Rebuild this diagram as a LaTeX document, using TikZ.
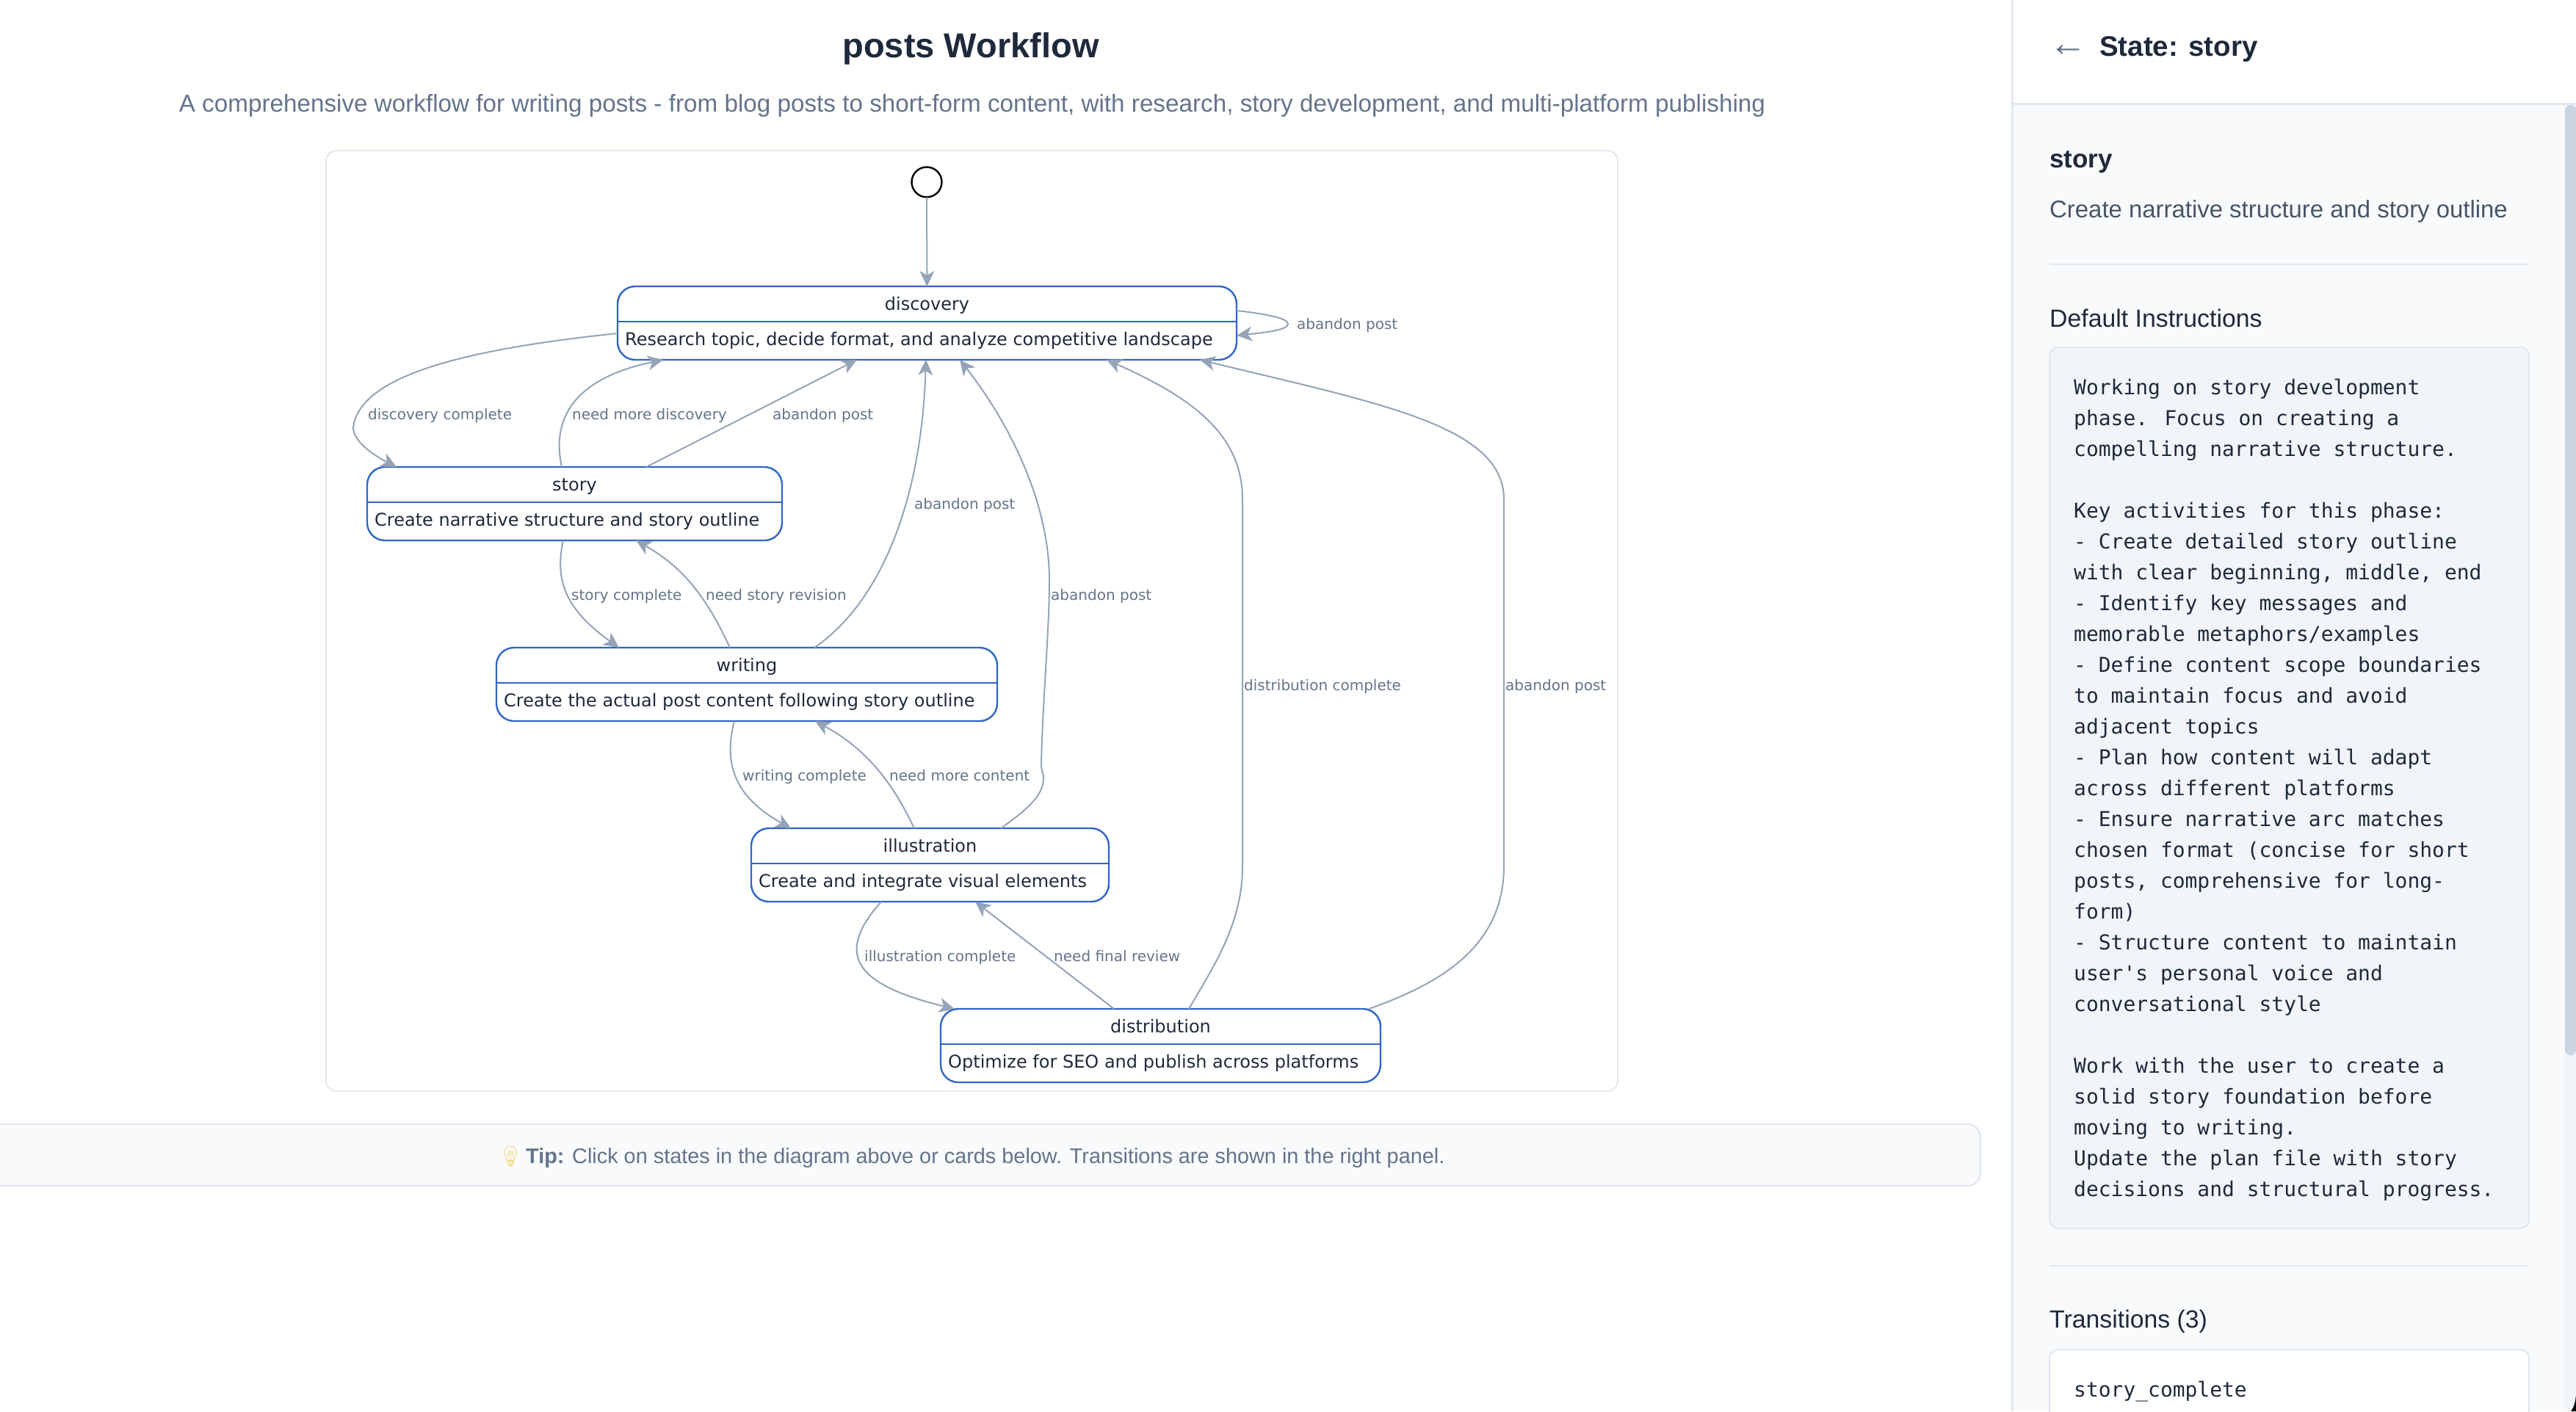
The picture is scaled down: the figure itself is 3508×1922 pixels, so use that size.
\documentclass[tikz,border=0pt]{standalone}
\usepackage{fontspec}
\usetikzlibrary{arrows.meta}
\setmainfont{Liberation Sans}
\newfontfamily\dejavu{DejaVu Sans}
\newfontfamily\dejamono{DejaVu Sans Mono}
\newfontfamily\emojifont{Noto Emoji}
\definecolor{slatebord}{HTML}{E2E8F0}
\definecolor{panelbg}{HTML}{F8FAFC}
\definecolor{codebg}{HTML}{F1F5F9}
\definecolor{ink}{HTML}{1E293B}
\definecolor{muted}{HTML}{64748B}
\definecolor{edgecol}{HTML}{94A3B8}
\definecolor{boxblue}{HTML}{2F66C6}
\definecolor{thumb}{HTML}{CBD5E1}
\definecolor{bulb}{HTML}{F3D77A}
\definecolor{desccol}{HTML}{475569}
\newcommand{\fs}[1]{\fontsize{#1}{#1}\selectfont}
\tikzset{
  statebox/.style={draw=boxblue,line width=2.4pt,fill=white,rounded corners=24pt,inner sep=0pt,outer sep=0pt,minimum height=100pt,text width=0pt},
  stateline/.style={draw=boxblue,line width=2.4pt},
  statetitle/.style={anchor=base,inner sep=0pt,text=ink,font=\dejavu\fs{24}},
  statedesc/.style={anchor=base west,inner sep=0pt,text=ink,font=\dejavu\fs{24}},
  edgeline/.style={draw=edgecol,line width=2pt,-{Stealth[length=21pt,width=20pt,inset=6pt]}},
  edgelabel/.style={anchor=base west,inner sep=0pt,text=muted,font=\dejavu\fs{20}},
  pagetext/.style={anchor=base west,inner sep=0pt},
  codeline/.style={anchor=base west,inner sep=0pt,text=ink,font=\dejamono\fs{27.95}},
  hairline/.style={draw=slatebord,line width=2.4pt},
  startcircle/.style={circle,draw=black,line width=2.4pt,fill=white,minimum size=41pt,inner sep=0pt,outer sep=0pt}
}
\newcommand{\mkstate}[6]{%
  \node[statebox,minimum width=#4pt,anchor=north west] (#1) at (#2,#3) {};
  \draw[stateline] ([yshift=-48pt]#1.north west) -- ([yshift=-48pt]#1.north east);
  \node[statetitle] (#1-title) at ([yshift=-32pt]#1.north) {#5};
  \node[statedesc] (#1-desc) at ([shift={(10pt,-80pt)}]#1.north west) {#6};
}
\begin{document}
\begin{tikzpicture}[x=1pt,y=-1pt]
\useasboundingbox (0,0) rectangle (3508,1922);
\clip (0,0) rectangle (3508,1922);
\fill[white] (0,0) rectangle (3508,1922);

% page header
\node[anchor=base,inner sep=0pt,text=ink,font=\bfseries\fs{47}] (pagetitle) at (1322,78) {posts Workflow};
\node[anchor=base,inner sep=0pt,text=muted,font=\fs{33.25}] (pagesub) at (1324,152) {A comprehensive workflow for writing posts - from blog posts to short-form content, with research, story development, and multi-platform publishing};

% diagram frame
\draw[draw=slatebord,line width=2pt,fill=white,rounded corners=14pt] (444,205) rectangle (2203,1486);

% tip bar
\draw[draw=slatebord,line width=2.4pt,fill=panelbg,rounded corners=18pt] (-40,1531) rectangle (2697,1615);
\node[pagetext,text=bulb,font=\emojifont\fs{27}] (tipicon) at (678,1584) {💡};
\node[pagetext,text=muted,font=\fs{28.85}] (tiptext) at (716,1584) {\textbf{Tip:} Click on states in the diagram above or cards below. Transitions are shown in the right panel.};

% states
\node[startcircle] (start) at (1262,248) {};
\mkstate{discovery}{841}{390}{843}{discovery}{Research topic, decide format, and analyze competitive landscape}
\mkstate{story}{500}{636}{565}{story}{Create narrative structure and story outline}
\mkstate{writing}{676}{882}{682}{writing}{Create the actual post content following story outline}
\mkstate{illustration}{1023}{1128}{487}{illustration}{Create and integrate visual elements}
\mkstate{distribution}{1281}{1374}{599}{distribution}{Optimize for SEO and publish across platforms}

% connectors
\draw[edgeline] (start.south) -- (discovery.north);
\draw[edgeline] ([yshift=-33pt]discovery.north east) .. controls (1720,427) and (1754,433) .. (1754,441) .. controls (1754,450) and (1720,453) .. ([yshift=-67pt]discovery.north east);
\draw[edgeline] ([yshift=36pt]discovery.south west) .. controls (640,475) and (490,510) .. (481,582) .. controls (481,600) and (505,618) .. ([xshift=40pt]story.north west);
\draw[edgeline] ([xshift=265pt]story.north west) .. controls (755,590) and (760,520) .. ([xshift=62pt]discovery.south west);
\draw[edgeline] ([xshift=380pt]story.north west) -- ([xshift=326pt]discovery.south west);
\draw[edgeline] ([xshift=267pt]story.south west) .. controls (755,790) and (770,830) .. ([xshift=167pt]writing.north west);
\draw[edgeline] ([xshift=318pt]writing.north west) .. controls (965,820) and (935,775) .. ([xshift=366pt]story.south west);
\draw[edgeline] ([xshift=433pt]writing.north west) .. controls (1200,820) and (1255,680) .. ([xshift=420pt]discovery.south west);
\draw[edgeline] ([xshift=324pt]writing.south west) .. controls (985,1040) and (1000,1085) .. ([xshift=54pt]illustration.north west);
\draw[edgeline] ([xshift=222pt]illustration.north west) .. controls (1215,1065) and (1180,1020) .. ([xshift=434pt]writing.south west);
\draw[edgeline] ([xshift=340pt]illustration.north west) .. controls (1395,1105) and (1421,1085) .. (1421,1060) .. controls (1421,1052) and (1418,1050) .. (1418,1040) .. controls (1420,950) and (1429,860) .. (1429,790) .. controls (1429,680) and (1370,570) .. ([xshift=466pt]discovery.south west);
\draw[edgeline] ([xshift=177pt]illustration.south west) .. controls (1138,1298) and (1160,1340) .. ([xshift=19pt]distribution.north west);
\draw[edgeline] ([xshift=236pt]distribution.north west) -- ([xshift=305pt]illustration.south west);
\draw[edgeline] ([xshift=338pt]distribution.north west) .. controls (1650,1320) and (1692,1260) .. (1692,1180) -- (1692,680) .. controls (1692,590) and (1620,540) .. ([xshift=666pt]discovery.south west);
\draw[edgeline] ([xshift=583pt]distribution.north west) .. controls (1960,1340) and (2048,1290) .. (2048,1180) -- (2048,680) .. controls (2048,580) and (1880,550) .. ([xshift=793pt]discovery.south west);

% connector labels
\node[edgelabel] (l1) at (1766,448) {abandon post};
\node[edgelabel] (l2) at (501,571) {discovery complete};
\node[edgelabel] (l3) at (779,571) {need more discovery};
\node[edgelabel] (l4) at (1052,571) {abandon post};
\node[edgelabel] (l5) at (1245,693) {abandon post};
\node[edgelabel] (l6) at (778,817) {story complete};
\node[edgelabel] (l7) at (961,817) {need story revision};
\node[edgelabel] (l8) at (1431,817) {abandon post};
\node[edgelabel] (l9) at (1694,940) {distribution complete};
\node[edgelabel] (l10) at (2050,940) {abandon post};
\node[edgelabel] (l11) at (1011,1063) {writing complete};
\node[edgelabel] (l12) at (1211,1063) {need more content};
\node[edgelabel] (l13) at (1177,1309) {illustration complete};
\node[edgelabel] (l14) at (1435,1309) {need final review};

% right panel
\fill[panelbg] (2740,142) rectangle (3508,1922);
\fill[white] (2740,0) rectangle (3508,142);
\fill[slatebord] (2739,0) rectangle (2742,1922);
\fill[slatebord] (2742,140) rectangle (3508,143);
\fill[codebg] (3492,143) rectangle (3508,1922);
\fill[thumb,rounded corners=7pt] (3493,143) rectangle (3508,1437);
\fill[black] (3508,1900) .. controls (3507,1910) and (3505,1917) .. (3501,1922) -- (3508,1922) -- cycle;

\node[pagetext,text=muted,font=\fs{52}] (backarrow) at (2790,76) {←};
\node[pagetext,text=ink,font=\bfseries\fs{38.5}] (paneltitle) at (2859,76) {State: story};
\node[pagetext,text=ink,font=\bfseries\fs{35}] (statename) at (2791,228) {story};
\node[pagetext,text=desccol,font=\fs{32.9}] (statedescr) at (2791,296) {Create narrative structure and story outline};
\draw[hairline] (2791,360) -- (3444,360);
\node[pagetext,text=ink,font=\fs{33.8}] (instr) at (2791,445) {Default Instructions};
\draw[draw=slatebord,line width=2.2pt,fill=codebg,rounded corners=12pt] (2791,473) rectangle (3444,1673);
\foreach \codetext [count=\i from 0] in {
 {Working on story development},
 {phase. Focus on creating a},
 {compelling narrative structure.},
 {},
 {Key activities for this phase:},
 {- Create detailed story outline},
 {with clear beginning, middle, end},
 {- Identify key messages and},
 {memorable metaphors/examples},
 {- Define content scope boundaries},
 {to maintain focus and avoid},
 {adjacent topics},
 {- Plan how content will adapt},
 {across different platforms},
 {- Ensure narrative arc matches},
 {chosen format (concise for short},
 {posts, comprehensive for long-},
 {form)},
 {- Structure content to maintain},
 {user's personal voice and},
 {conversational style},
 {},
 {Work with the user to create a},
 {solid story foundation before},
 {moving to writing.},
 {Update the plan file with story},
 {decisions and structural progress.}}
{ \node[codeline] (code\i) at (2824,{537.5+\i*41.98}) {\codetext}; }
\draw[hairline] (2791,1724) -- (3444,1724);
\node[pagetext,text=ink,font=\fs{33.8}] (transhead) at (2791,1808) {Transitions (3)};
\draw[draw=slatebord,line width=2.2pt,fill=white,rounded corners=12pt] (2791,1838) rectangle (3444,1980);
\node[codeline] (transname) at (2824,1902) {story\_complete};
\end{tikzpicture}
\end{document}
